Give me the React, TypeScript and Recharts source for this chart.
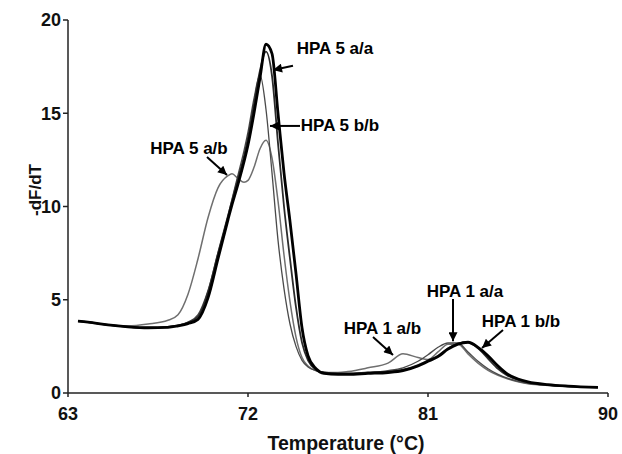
import React from "react";
import { LineChart, Line, XAxis, YAxis, ReferenceLine, ReferenceDot } from "recharts";

const FONT = "'Liberation Sans', Arial, Helvetica, sans-serif";

// temperature grid (°C)
const TEMPS = [
  63.5, 64, 65, 66, 67, 68, 68.5, 69, 69.5, 70, 70.5, 71, 71.2, 71.5, 71.8, 72, 72.3, 72.6, 72.9, 73.2,
  73.5, 73.8, 74.1, 74.4, 74.7, 75, 75.4, 75.8, 76.5, 77, 78, 79, 79.75, 80.5, 81, 81.5, 82, 82.5, 83,
  83.5, 84, 84.5, 85, 85.5, 86, 87, 88, 89.5,
];

// -dF/dT for each sample
const SAMPLE_A = [
  3.85, 3.8, 3.65, 3.55, 3.5, 3.52, 3.6, 3.72, 3.95, 5.1, 7.2, 9.3, 10.1, 11.2, 12.4, 13.3, 15.0, 16.9, 18.7, 18.2,
  15.0, 11.8, 9.2, 6.4, 3.5, 2.0, 1.3, 1.05, 1.0, 1.0, 1.05, 1.1, 1.2, 1.45, 1.7, 1.95, 2.35, 2.62, 2.72,
  2.45, 2.0, 1.45, 1.0, 0.75, 0.6, 0.45, 0.37, 0.3,
];
const SAMPLE_D = [
  3.85, 3.8, 3.65, 3.55, 3.5, 3.55, 3.62, 3.78, 4.1, 5.4, 7.5, 9.5, 10.3, 11.5, 12.7, 13.7, 15.5, 17.3, 18.3, 17.0,
  13.4, 10.0, 7.2, 4.6, 2.7, 1.75, 1.25, 1.1, 1.05, 1.05, 1.1, 1.15, 1.25, 1.5, 1.75, 2.0, 2.4, 2.65, 2.72,
  2.4, 1.85, 1.3, 0.92, 0.7, 0.57, 0.44, 0.36, 0.3,
];
const SAMPLE_B = [
  3.85, 3.8, 3.65, 3.55, 3.5, 3.55, 3.62, 3.8, 4.2, 5.5, 7.5, 9.5, 10.4, 11.7, 13.0, 14.0, 15.8, 17.05, 15.2, 11.8,
  8.2, 5.6, 3.7, 2.5, 1.75, 1.4, 1.2, 1.1, 1.05, 1.05, 1.1, 1.2, 1.35, 1.7, 2.05, 2.45, 2.68, 2.68, 2.2,
  1.7, 1.3, 1.0, 0.78, 0.62, 0.52, 0.42, 0.36, 0.3,
];
const SAMPLE_C = [
  3.85, 3.8, 3.65, 3.6, 3.7, 3.9, 4.2, 5.3, 7.2, 9.4, 11.0, 11.65, 11.75, 11.5, 11.3, 11.4, 12.1, 13.1, 13.55, 12.6,
  10.3, 7.4, 4.9, 3.0, 1.9, 1.45, 1.2, 1.1, 1.1, 1.15, 1.35, 1.6, 2.1, 1.9, 1.8, 2.2, 2.62, 2.62, 2.1,
  1.6, 1.22, 0.95, 0.75, 0.6, 0.5, 0.4, 0.35, 0.3,
];

const X_TICKS = [63, 72, 81, 90];
const Y_TICKS = [0, 5, 10, 15, 20];

// annotation text, placed at [temp, value]
const LABELS = [
  { text: "HPA 5 a/a", at: [76.35, 18.47] },
  { text: "HPA 5 b/b", at: [76.6, 14.32] },
  { text: "HPA 5 a/b", at: [69.05, 13.11] },
  { text: "HPA 1 a/a", at: [82.85, 5.44] },
  { text: "HPA 1 a/b", at: [78.72, 3.46] },
  { text: "HPA 1 b/b", at: [85.65, 3.83] },
];
const ARROWS = [
  { from: [74.25, 17.55], to: [73.25, 17.32] },
  { from: [74.6, 14.32], to: [73.1, 14.32] },
  { from: [69.95, 12.65], to: [70.95, 11.69] },
  { from: [82.25, 5.04], to: [82.25, 2.78] },
  { from: [78.25, 3.0], to: [79.25, 2.04] },
  { from: [84.75, 3.38], to: [83.7, 2.41] },
];

const rows = TEMPS.map((t, i) => ({
  t,
  a: SAMPLE_A[i],
  b: SAMPLE_B[i],
  c: SAMPLE_C[i],
  d: SAMPLE_D[i],
}));

const XTick = (p: any) => (
  <text x={p.x} y={p.y} dy="0.71em" textAnchor="middle" fontSize={18} fontWeight={700} fontFamily={FONT} fill="#111">
    {p.payload.value}
  </text>
);
const YTick = (p: any) => (
  <text x={p.x} y={p.y} dy="0.355em" textAnchor="end" fontSize={18} fontWeight={700} fontFamily={FONT} fill="#111">
    {p.payload.value}
  </text>
);

export default function App() {
  return (
    <div style={{ position: "absolute", left: 0, top: 0, width: 622, height: 454, background: "#fff" }}>
      <svg width={0} height={0} style={{ position: "absolute" }}>
        <defs>
          <marker
            id="ah"
            viewBox="0 0 10 10"
            refX={10}
            refY={5}
            markerWidth={11}
            markerHeight={9}
            markerUnits="userSpaceOnUse"
            orient="auto"
          >
            <path d="M0,0 L10,5 L0,10 z" fill="#000" />
          </marker>
        </defs>
      </svg>
      <LineChart width={622} height={454} data={rows} margin={{ top: 20, right: 14, bottom: 0, left: 0 }}>
        <XAxis
          dataKey="t"
          type="number"
          domain={[63, 90]}
          ticks={X_TICKS}
          height={61}
          tick={XTick}
          tickSize={4}
          tickMargin={10}
          axisLine={{ stroke: "#222", strokeWidth: 1.5 }}
          tickLine={{ stroke: "#222", strokeWidth: 1.5 }}
          label={{
            content: () => (
              <text x={346} y={450} textAnchor="middle" fontSize={19.5} fontWeight={700} fontFamily={FONT} fill="#111">
                Temperature (°C)
              </text>
            ),
          }}
        />
        <YAxis
          type="number"
          domain={[0, 20]}
          ticks={Y_TICKS}
          width={68}
          tick={YTick}
          tickSize={5}
          tickMargin={2}
          axisLine={{ stroke: "#222", strokeWidth: 1.5 }}
          tickLine={{ stroke: "#222", strokeWidth: 1.5 }}
          label={{
            content: () => (
              <text
                x={35}
                y={190}
                transform="rotate(-90 35 190)"
                textAnchor="middle"
                dominantBaseline="central"
                fontSize={17}
                fontWeight={700}
                fontFamily={FONT}
                fill="#111"
              >
                -dF/dT
              </text>
            ),
          }}
        />
        <Line type="monotone" dataKey="c" stroke="#6f6f6f" strokeWidth={1.5} dot={false} isAnimationActive={false} />
        <Line type="monotone" dataKey="b" stroke="#4a4a4a" strokeWidth={1.3} dot={false} isAnimationActive={false} />
        <Line type="monotone" dataKey="d" stroke="#2b2b2b" strokeWidth={1.8} dot={false} isAnimationActive={false} />
        <Line type="monotone" dataKey="a" stroke="#000" strokeWidth={2.8} dot={false} isAnimationActive={false} />
        {ARROWS.map((ar, i) => (
          <ReferenceLine
            key={`ar-${i}`}
            segment={[
              { x: ar.from[0], y: ar.from[1] },
              { x: ar.to[0], y: ar.to[1] },
            ]}
            stroke="#000"
            strokeWidth={2}
            markerEnd="url(#ah)"
          />
        ))}
        {LABELS.map((lb, i) => (
          <ReferenceDot
            key={`lb-${i}`}
            x={lb.at[0]}
            y={lb.at[1]}
            r={0}
            shape={(p: any) => (
              <text
                x={p.cx}
                y={p.cy}
                textAnchor="middle"
                dominantBaseline="central"
                fontSize={17}
                fontWeight={700}
                fontFamily={FONT}
                fill="#000"
              >
                {lb.text}
              </text>
            )}
          />
        ))}
      </LineChart>
    </div>
  );
}
